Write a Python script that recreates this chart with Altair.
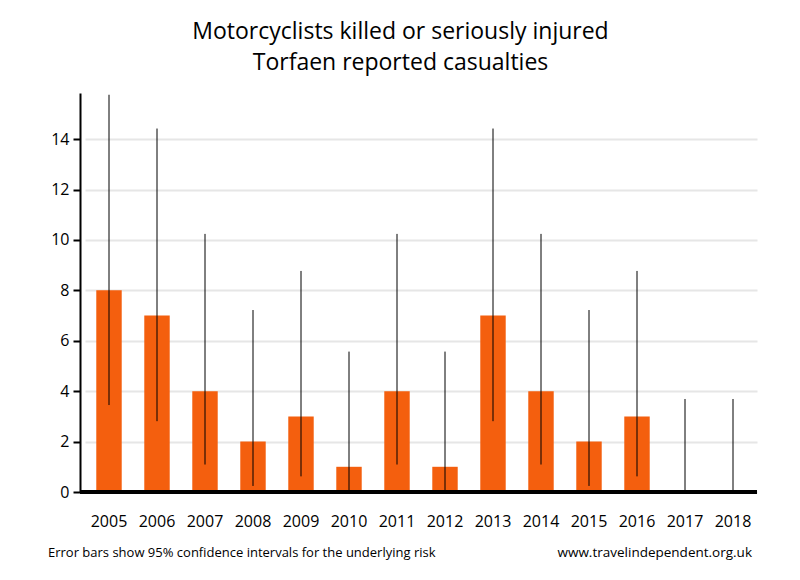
import altair as alt
import pandas as pd

years = [str(y) for y in range(2005, 2019)]
casualties = [8, 7, 4, 2, 3, 1, 4, 1, 7, 4, 2, 3, 0, 0]
ci_low = [3.45, 2.81, 1.09, 0.24, 0.62, 0.03, 1.09, 0.03, 2.81, 1.09, 0.24, 0.62, 0.0, 0.0]
ci_high = [15.76, 14.42, 10.24, 7.22, 8.77, 5.57, 10.24, 5.57, 14.42, 10.24, 7.22, 8.77, 3.69, 3.69]
y_ticks = [0, 2, 4, 6, 8, 10, 12, 14]

title_lines = ["Motorcyclists killed or seriously injured", "Torfaen reported casualties"]
footer_left = "Error bars show 95% confidence intervals for the underlying risk"
footer_right = "www.travelindependent.org.uk"

df = pd.DataFrame({"year": years, "value": casualties, "low": ci_low, "high": ci_high})

FONT = "Open Sans"
W, H = 677, 399

xscale = alt.Scale(domain=years, range=[5, W], paddingInner=0.47, paddingOuter=0.235)
yscale = alt.Scale(domain=[0, 15.83], nice=False, zero=True)

x_enc = alt.X("year:N", scale=xscale, sort=years,
              axis=alt.Axis(title=None, labelAngle=0, ticks=False, domain=False,
                            labelPadding=21, labelFontSize=16, labelFont=FONT,
                            labelColor="black", grid=False))

bars = alt.Chart(df).mark_bar(color="#F45F0E").encode(
    x=x_enc,
    y=alt.Y("value:Q", scale=yscale,
            axis=alt.Axis(title=None, values=y_ticks, labelFontSize=16, labelFont=FONT,
                          labelColor="black", tickSize=7, tickWidth=2, tickColor="black",
                          domainColor="black", domainWidth=2, labelPadding=4,
                          grid=True, gridColor="#e6e6e6", gridWidth=2)),
)

errs = alt.Chart(df).mark_rule(color="black", strokeWidth=1).encode(
    x=alt.X("year:N", scale=xscale, sort=years),
    y=alt.Y("low:Q", scale=yscale),
    y2="high:Q",
)

xaxis_line = alt.Chart(df).mark_rule(color="black", strokeWidth=3).encode(
    x=alt.value(0), x2=alt.value(W), y=alt.value(H),
)

foot_l = alt.Chart(pd.DataFrame({"t": [footer_left]})).mark_text(
    align="left", baseline="middle", fontSize=13, font=FONT, color="black"
).encode(text="t:N", x=alt.value(-32), y=alt.value(460))

foot_r = alt.Chart(pd.DataFrame({"t": [footer_right]})).mark_text(
    align="right", baseline="middle", fontSize=13.5, font=FONT, color="black"
).encode(text="t:N", x=alt.value(672), y=alt.value(460))

chart = alt.layer(bars, errs, xaxis_line, foot_l, foot_r).properties(
    width=W, height=H,
    background="white",
    autosize=alt.AutoSizeParams(type="none"),
    padding={"left": 72, "top": 85, "right": 20, "bottom": 85},
    title=alt.TitleParams(text=title_lines, anchor="middle", fontSize=23, font=FONT,
                          fontWeight="normal", color="black", lineHeight=31,
                          dx=-18, offset=18),
).configure_view(stroke=None)

chart.save("out.html", embed_options={"renderer": "svg", "actions": False})
